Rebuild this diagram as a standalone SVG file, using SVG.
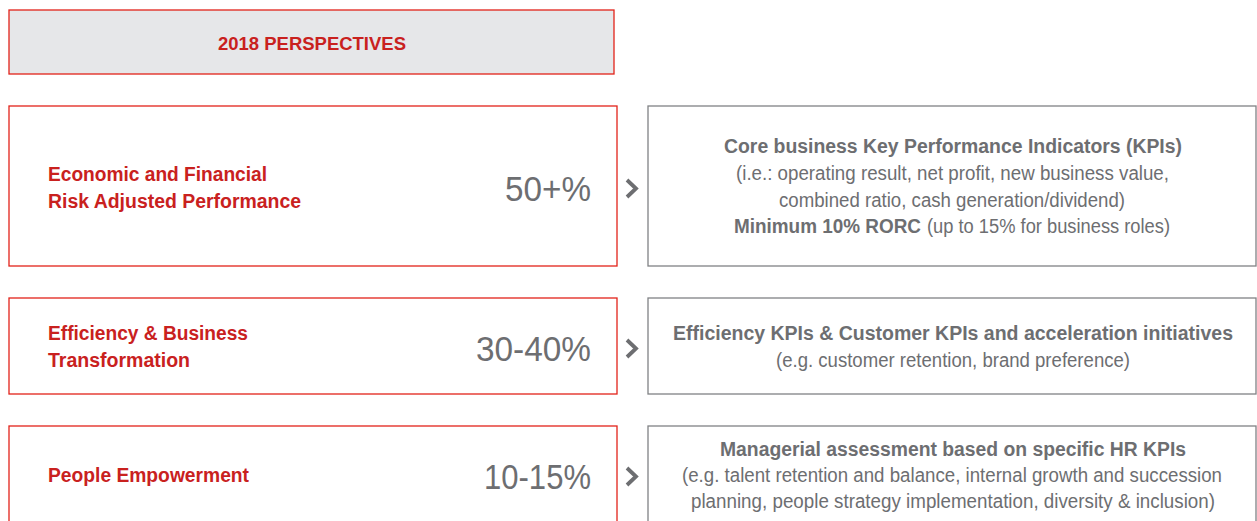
<svg xmlns="http://www.w3.org/2000/svg" width="1257" height="521" viewBox="0 0 1257 521">
<style>
.bg{fill:#ffffff}
.hdr{fill:#e6e7e9;stroke:#e2231a;stroke-width:1.3}
.lbox{fill:#ffffff;stroke:#e2231a;stroke-width:1.3}
.rbox{fill:#ffffff;stroke:#808285;stroke-width:1.3}
.t{font-family:"Liberation Sans",Arial,sans-serif}
.red{fill:#c9211e;font-weight:bold;font-size:20px}
.hd{fill:#c9211e;font-weight:bold;font-size:19px}
.pct{fill:#6d6e71;font-size:35px}
.rb{fill:#6d6e71;font-weight:bold;font-size:20px}
.rn{fill:#6d6e71;font-size:20px}
.chev{fill:none;stroke:#6d6e71;stroke-width:3.8;stroke-linecap:butt;stroke-linejoin:miter}
</style>
<rect class="bg" x="0" y="0" width="1257" height="521"/>
<g id="header">
<rect class="hdr" x="9" y="10" width="605" height="64"/>
<text class="t hd" x="218" y="50" textLength="188" lengthAdjust="spacingAndGlyphs">2018 PERSPECTIVES</text>
</g>
<g id="economic">
<rect class="lbox" x="9" y="106" width="608" height="160"/>
<text class="t red" x="48" y="181" textLength="219" lengthAdjust="spacingAndGlyphs">Economic and Financial</text>
<text class="t red" x="48" y="208" textLength="253" lengthAdjust="spacingAndGlyphs">Risk Adjusted Performance</text>
<text class="t pct" x="505" y="201" textLength="86" lengthAdjust="spacingAndGlyphs">50+%</text>
</g>
<g id="core-kpis">
<rect class="rbox" x="648" y="106" width="608" height="160"/>
<text class="t rb" x="724" y="153" textLength="458" lengthAdjust="spacingAndGlyphs">Core business Key Performance Indicators (KPIs)</text>
<text class="t rn" x="736" y="180" textLength="433" lengthAdjust="spacingAndGlyphs">(i.e.: operating result, net profit, new business value,</text>
<text class="t rn" x="779" y="207" textLength="346" lengthAdjust="spacingAndGlyphs">combined ratio, cash generation/dividend)</text>
<text class="t rb" x="734" y="233" textLength="187" lengthAdjust="spacingAndGlyphs">Minimum 10% RORC</text>
<text class="t rn" x="927" y="233" textLength="243" lengthAdjust="spacingAndGlyphs">(up to 15% for business roles)</text>
</g>
<g id="efficiency">
<rect class="lbox" x="9" y="298" width="608" height="96"/>
<text class="t red" x="48" y="340" textLength="200" lengthAdjust="spacingAndGlyphs">Efficiency &amp; Business</text>
<text class="t red" x="48" y="367" textLength="142" lengthAdjust="spacingAndGlyphs">Transformation</text>
<text class="t pct" x="476" y="361" textLength="115" lengthAdjust="spacingAndGlyphs">30-40%</text>
</g>
<g id="efficiency-kpis">
<rect class="rbox" x="648" y="298" width="608" height="96"/>
<text class="t rb" x="673" y="340" textLength="560" lengthAdjust="spacingAndGlyphs">Efficiency KPIs &amp; Customer KPIs and acceleration initiatives</text>
<text class="t rn" x="776" y="367" textLength="354" lengthAdjust="spacingAndGlyphs">(e.g. customer retention, brand preference)</text>
</g>
<g id="people">
<rect class="lbox" x="9" y="426" width="608" height="100"/>
<text class="t red" x="48" y="482" textLength="201" lengthAdjust="spacingAndGlyphs">People Empowerment</text>
<text class="t pct" x="484" y="489" textLength="107" lengthAdjust="spacingAndGlyphs">10-15%</text>
</g>
<g id="hr-kpis">
<rect class="rbox" x="648" y="426" width="608" height="100"/>
<text class="t rb" x="720" y="456" textLength="466" lengthAdjust="spacingAndGlyphs">Managerial assessment based on specific HR KPIs</text>
<text class="t rn" x="682" y="482" textLength="540" lengthAdjust="spacingAndGlyphs">(e.g. talent retention and balance, internal growth and succession</text>
<text class="t rn" x="691" y="508" textLength="524" lengthAdjust="spacingAndGlyphs">planning, people strategy implementation, diversity &amp; inclusion)</text>
</g>
<g id="connectors">
<path class="chev" d="M627,180 L636,188.5 L627,197"/>
<path class="chev" d="M627,340 L636,348.5 L627,357"/>
<path class="chev" d="M627,468 L636,476.5 L627,485"/>
</g>
</svg>
